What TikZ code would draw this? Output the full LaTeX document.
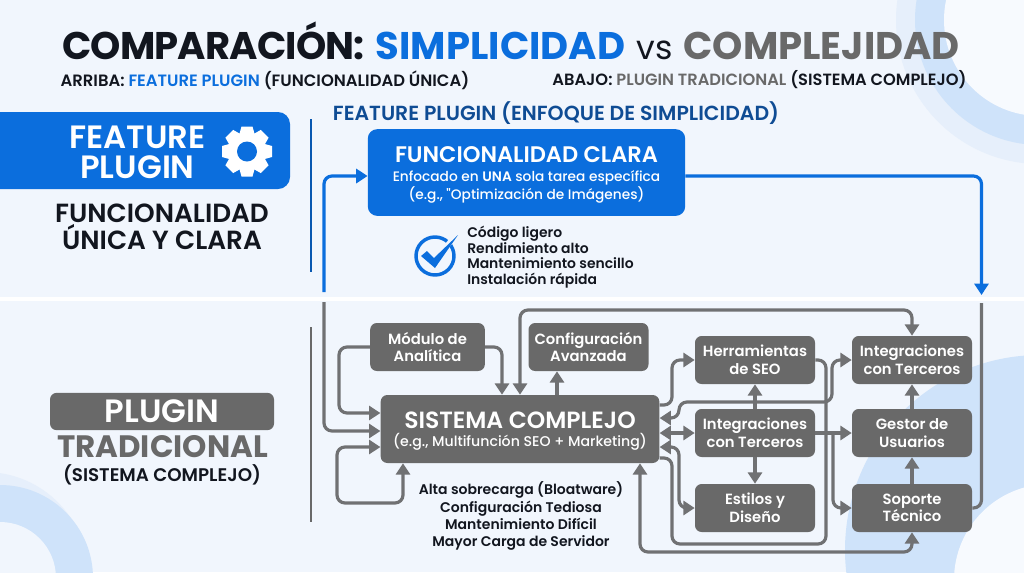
\documentclass[tikz,border=0pt]{standalone}
\usepackage{fontspec}
\setmainfont{Poppins}
\newfontfamily\semifont{Poppins SemiBold}
\newfontfamily\medfont{Poppins Medium}
\usetikzlibrary{arrows.meta}
\definecolor{pagebg}{HTML}{F1F6FD}
\definecolor{ringa}{HTML}{E6EFFB}
\definecolor{ringb}{HTML}{CFE3FA}
\definecolor{planblue}{HTML}{0B6EDD}
\definecolor{darkblue}{HTML}{0F4C94}
\definecolor{boxgray}{HTML}{696969}
\definecolor{linegray}{HTML}{707173}
\definecolor{inkblack}{HTML}{12161F}
\tikzset{
  graybox/.style={fill=boxgray, rounded corners=5pt, text=white, align=center, inner sep=0pt,
    minimum width=90pt, minimum height=36pt, font=\semifont\fontsize{11.1}{13.2}\selectfont},
  flow/.style={draw=linegray, line width=2.4pt, rounded corners=6pt, >={Triangle[length=8.5pt,width=10.5pt]}},
  blueflow/.style={flow, draw=planblue},
  label/.style={align=center, inner sep=0pt},
}
\begin{document}
\begin{tikzpicture}[x=0.75pt, y=-0.75pt]
	  \useasboundingbox (0,0) rectangle (1024,572);
	  \fill [pagebg] (0,0) rectangle (1024,572);

	  % rings in the corners
	  \begin{scope}
	    \clip (0,0) rectangle (1024,572);
	    \fill [ringa] (1040,20) circle (144);
	    \fill [ringb] (1040,20) circle (125);
	    \fill [pagebg!60!white] (1040,20) circle (96);
	    \fill [ringb] (1040,550) circle (195);
	    \fill [pagebg!60!white] (1050,580) circle (96);
	    \fill [ringa] (-15,575) circle (103);
	    \fill [ringb] (0,578) circle (93);
	    \fill [pagebg] (0,578) circle (56);
	    \fill [white] (0,297) rectangle (1024,300.5);
	    \fill [planblue, rounded corners=9pt] (-20,112) rectangle (290,189);
	  \end{scope}

	  % title lines
	  \node [label, anchor=base] (title) at (511,59.5) {\fontsize{28.9}{32}\bfseries\selectfont\color{inkblack}{\addfontfeature{LetterSpace=-2.2}COMPARACIÓN:} \hspace{2.2pt}\color{planblue}SIMPLICIDAD \hspace{2.2pt}\color{inkblack}{\mdseries\fontsize{25}{32}\selectfont vs} \hspace{2.2pt}\color{boxgray}COMPLEJIDAD};
	  \node [label, font=\semifont\fontsize{12.3}{15}\selectfont] (above) at (265,80) {\color{inkblack}ARRIBA: \color{planblue}FEATURE PLUGIN \color{inkblack}(FUNCIONALIDAD ÚNICA)};
	  \node [label, font=\semifont\fontsize{12.2}{15}\selectfont] (below) at (759.5,80) {\color{inkblack}ABAJO: \color{boxgray}PLUGIN TRADICIONAL \color{inkblack}(SISTEMA COMPLEJO)};
	  \node [label, text=darkblue, font=\semifont\fontsize{15.3}{18}\selectfont] (heading) at (556,113) {FEATURE PLUGIN (ENFOQUE DE SIMPLICIDAD)};

	  % left column
	  \node [label, text=white, font=\semifont\fontsize{24.2}{22.5}\selectfont] (feature) at (137.5,152) {FEATURE\\PLUGIN};
	  \node [label, text=inkblack, font=\semifont\fontsize{19.7}{20.3}\selectfont] (unique) at (162,227) {FUNCIONALIDAD\\ÚNICA Y CLARA};
	  \node [graybox, minimum width=168pt, minimum height=28pt, font=\semifont\fontsize{24.2}{24}\selectfont] (plugin) at (162,411.5) {PLUGIN};
	  \node [label, text=boxgray, font=\bfseries\fontsize{23.2}{24}\selectfont] (classic) at (162.5,447) {TRADICIONAL};
	  \node [label, text=inkblack, font=\semifont\fontsize{13.7}{16}\selectfont] (sublabel) at (162,475) {(SISTEMA COMPLEJO)};

	  % gear
	  \begin{scope}[shift={(247,151.5)}]
	    \fill [white] (0,0) circle (19);
	    \foreach \a in {0,45,...,315}
	      \fill [white, rotate=\a] (-5.5,-25) -- (5.5,-25) -- (8,-16) -- (-8,-16) -- cycle;
	    \fill [planblue] (0,0) circle (10);
	  \end{scope}

	  % dividers
	  \draw [planblue!80!black, line width=1.1pt] (311,119)--(311,272);
	  \draw [boxgray, line width=1.1pt] (311,327)--(311,522);

	  % simple plugin
	  \node [graybox, fill=planblue, rounded corners=7pt, minimum width=238pt, minimum height=65pt,
	    font=\medfont\fontsize{10.3}{13.5}\selectfont] (clara) at (526.5,172.5)
	    {\rule{0pt}{15.5pt}{\semifont\fontsize{16.9}{20}\selectfont FUNCIONALIDAD CLARA}\\[1pt]Enfocado en {\semifont UNA} sola tarea específica\\(e.g., "Optimización de Imágenes)};
	  \draw [planblue, line width=2.6pt] (435,256) circle (19);
	  \fill [pagebg] (430,262) -- (437,262) -- (462,232) -- (450,238) -- cycle;
	  \fill [planblue] (421,256) -- (427,251) -- (434,258) -- (458,235) -- (435,268) -- cycle;
	  \node [label, align=left, anchor=west, text=inkblack, font=\semifont\fontsize{10.45}{11.8}\selectfont] (gains) at (467,257)
	    {Código ligero\\Rendimiento alto\\Mantenimiento sencillo\\Instalación rápida};

	  % traditional plugin
	  \node [graybox, minimum width=209pt, minimum height=51pt, font=\medfont\fontsize{10.6}{13}\selectfont] (sis) at (520,429)
	    {\rule{0pt}{15.5pt}{\semifont\fontsize{17.6}{21}\selectfont SISTEMA COMPLEJO}\\[1pt](e.g., Multifunción SEO + Marketing)};
	  \node [label, text=inkblack, font=\semifont\fontsize{10.5}{12.8}\selectfont] (costs) at (521,516)
	    {Alta sobrecarga (Bloatware)\\Configuración Tediosa\\Mantenimiento Difícil\\Mayor Carga de Servidor};

	  \node [graybox, minimum width=86pt] (modulo) at (427.5,347) {Módulo de\\Analítica};
	  \node [graybox] (config) at (588.5,347) {Configuración\\Avanzada};
	  \node [graybox] (seo) at (755,360) {Herramientas\\de SEO};
	  \node [graybox] (midint) at (755,433) {Integraciones\\con Terceros};
	  \node [graybox] (estilos) at (755,508) {Estilos y\\Diseño};
	  \node [graybox] (topint) at (912,360) {Integraciones\\con Terceros};
	  \node [graybox] (gestor) at (912,433) {Gestor de\\Usuarios};
	  \node [graybox] (soporte) at (912,508) {Soporte\\Técnico};

	  \coordinate (bluestart) at (324,292);
	  \coordinate (graystart) at (324,302);
	  \coordinate (bluetip) at (981.5,295);
	  \coordinate (grayend) at (981.5,303);
	  \coordinate (split) at (833,433);

	  % connectors
	  \draw [blueflow, ->] (bluestart) |- (clara.west |- 0,176);
	  \draw [blueflow, ->] (clara.east |- 0,176) -| (bluetip);
	  \draw [flow, ->] (graystart) |- (sis.west |- 0,431);
	  \draw [flow, ->] (modulo.west) -| (339,413) -- (sis.west |- 0,413);
	  \draw [flow, ->] (modulo.east) -| (sis.north -| 502,0);
	  \draw [flow, <->] (sis.north -| 520,0) |- (topint.north |- 0,310) -- (topint.north);
	  \draw [flow, ->] (sis.north -| 557,0) -- (config.south -| 557,0);
	  \draw [flow, <->] (sis.south -| 403,0) |- (337,503) |- (sis.west |- 0,447);
	  \draw [flow, ->] (sis.east |- 0,405) -- (672,405) |- (seo.west);
	  \draw [flow, <->] (sis.east |- 0,418) -| (679,402) -- (832,402) |- (topint.west);
	  \draw [flow, <->] (sis.east |- midint.west) -- (midint.west);
	  \draw [flow, <->] (sis.east |- 0,447) -| (679,508) -- (estilos.west);
	  \draw [flow] (seo.east) -| (826,544) -| (672,458) -- (sis.east |- 0,458);
	  \draw [flow, ->] (midint.east) -- (gestor.west);
	  \draw [flow, ->] (split) |- (soporte.west);
	  \draw [flow, ->] (midint.north) -- (seo.south);
	  \draw [flow, ->] (midint.south) -- (estilos.north);
	  \draw [flow, ->] (gestor.north) -- (topint.south);
	  \draw [flow, ->] (soporte.north) -- (gestor.south);
	  \draw [flow] (soporte.east) -| (grayend);
	  \draw [flow, <->] (sis.south -| 640,0) |- (soporte.south |- 0,552) -- (soporte.south);
	\end{tikzpicture}
\end{document}
